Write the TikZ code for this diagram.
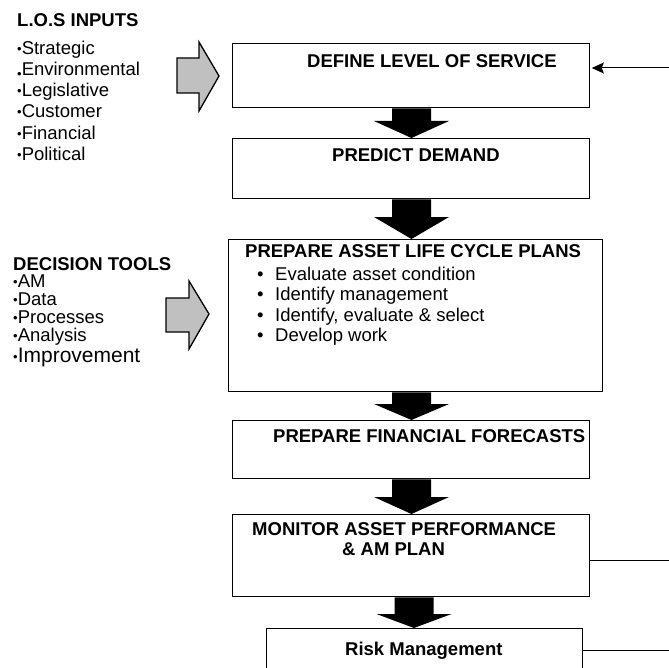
\documentclass[tikz,border=0pt]{standalone}
\usepackage{fontspec}
\setmainfont{Liberation Sans}
\usetikzlibrary{calc,arrows.meta}
\definecolor{arrowgray}{RGB}{192,192,192}

\tikzset{
  box/.style={draw=black, line width=1.3bp, fill=white, inner sep=0pt, anchor=north west},
  title/.style={font=\bfseries\fontsize{18.5bp}{21bp}\selectfont, anchor=base west, inner sep=0pt},
  % multi-line texts are placed by the baseline of their last line
  body/.style={font=\fontsize{18.5bp}{20.5bp}\selectfont, anchor=base west, inner sep=0pt, align=left},
  inarrow/.style={draw=black, line width=1.3bp, fill=arrowgray, line join=miter},
  feed/.style={draw=black, line width=1bp},
}

% thick black block arrow: centre x, start anchor, end anchor, head length
\newcommand\fatarrow[4]{%
  \coordinate (fa) at (#1,0);
  \fill[black] ($(fa |- #2)+(-19.5,0)$) -- ($(fa |- #2)+(19.5,0)$)
    -- ($(fa |- #3)+(19.5,-#4)$) -- ($(fa |- #3)+(37.5,-#4)$)
    -- (fa |- #3)
    -- ($(fa |- #3)+(-37.5,-#4)$) -- ($(fa |- #3)+(-19.5,-#4)$) -- cycle;}

\newcommand\smallbullet{{\fontsize{13bp}{13bp}\selectfont\raisebox{1bp}{•}}}

\begin{document}
\begin{tikzpicture}[x=1bp, y=-1bp]
  \useasboundingbox (0,0) rectangle (669,668);
  \clip (0,0) rectangle (669,668);

  % process boxes
  \node[box, minimum width=357bp, minimum height=64bp]  (define)   at (232,43)  {};
  \node[box, minimum width=357bp, minimum height=60bp]  (predict)  at (232,138) {};
  \node[box, minimum width=374bp, minimum height=152bp] (plans)    at (228,239) {};
  \node[box, minimum width=357bp, minimum height=58bp]  (forecast) at (232,420) {};
  \node[box, minimum width=357bp, minimum height=82bp]  (monitor)  at (232,514) {};
  \node[box, minimum width=316bp, minimum height=70bp]  (risk)     at (266,628) {};

  % box titles
  \node[title] (define-t)   at (307,68)  {DEFINE LEVEL OF SERVICE};
  \node[title] (predict-t)  at (332,161) {PREDICT DEMAND};
  \node[title] (plans-t)    at (245,257) {PREPARE ASSET LIFE CYCLE PLANS};
  \node[body]  (plans-b)    at (257,341.5) {%
    \makebox[18bp][l]{•}Evaluate asset condition\\
    \makebox[18bp][l]{•}Identify management\\
    \makebox[18bp][l]{•}Identify, evaluate \& select\\
    \makebox[18bp][l]{•}Develop work};
  \node[title] (forecast-t) at (273,442) {PREPARE FINANCIAL FORECASTS};
  \node[title] (monitor-t1) at (252,535) {MONITOR ASSET PERFORMANCE};
  \node[title] (monitor-t2) at (342,555) {\& AM PLAN};
  \node[title] (risk-t)     at (345,655) {Risk Management};

  % block arrows between the steps
  \fatarrow{411.5}{define.south}{predict.north}{17}
  \fatarrow{411.5}{predict.south}{plans.north}{22}
  \fatarrow{411.5}{plans.south}{forecast.north}{16}
  \fatarrow{411.5}{forecast.south}{monitor.north}{17}
  \fatarrow{414}{monitor.south}{risk.north}{14}

  % inputs on the left
  \node[title] (los-t) at (17,27) {L.O.S INPUTS};
  \node[body, font=\fontsize{18.5bp}{21bp}\selectfont] (los-b) at (17,160) {%
    \smallbullet Strategic\\
    {\fontsize{13bp}{13bp}\selectfont\raisebox{-3bp}{•}}Environmental\\
    \smallbullet Legislative\\
    \smallbullet Customer\\
    \smallbullet Financial\\
    \smallbullet Political};

  \node[title] (dec-t) at (13,270) {DECISION TOOLS};
  \node[body, font=\fontsize{18.5bp}{18bp}\selectfont] (dec-b) at (13,341) {%
    \smallbullet AM\\
    \smallbullet Data\\
    \smallbullet Processes\\
    \smallbullet Analysis};
  \node[body, font=\fontsize{21bp}{21bp}\selectfont] (dec-i) at (13,362) {\smallbullet Improvement};

  % grey input arrows
  \draw[inarrow] (177,58) -- (199,58) -- (199,42) -- (219,76) -- (199,111) -- (199,93) -- (177,93) -- cycle;
  \draw[inarrow] (166,298) -- (189,298) -- (189,281) -- (209,314) -- (189,349) -- (189,332) -- (166,332) -- cycle;

  % feedback lines on the right
  \coordinate (fbin)   at (669,68);
  \coordinate (fbmon)  at (669,560);
  \coordinate (fbrisk) at (669,650);
  \draw[feed, -{Stealth[length=12bp, width=11bp, inset=2bp]}, shorten >=1.5bp] (fbin) -- (fbin -| define.east);
  \draw[feed] (fbmon -| monitor.east) -- (fbmon);
  \draw[feed] (fbrisk -| risk.east) -- (fbrisk);
\end{tikzpicture}
\end{document}
